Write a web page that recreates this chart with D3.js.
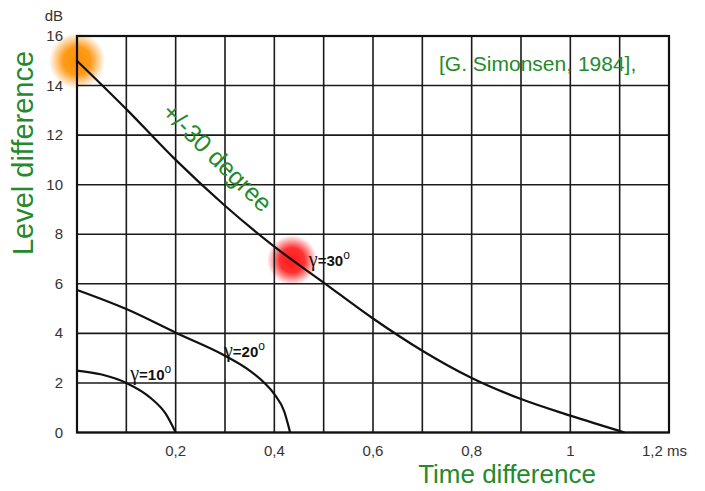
<!DOCTYPE html>
<html>
<head>
<meta charset="utf-8">
<script src="https://cdn.jsdelivr.net/npm/d3@7"></script>
<style>
  body { margin: 0; background: #fff; }
  svg { display: block; font-family: "Liberation Sans", Arial, sans-serif; }
  .grid line { stroke: #1a1a1a; stroke-width: 1.6; }
  .tick-label { fill: #333; font-size: 15px; }
  .curve { fill: none; stroke: #111; stroke-width: 2.2; }
  .green { fill: #258a2c; }
</style>
</head>
<body>
<svg id="chart" width="705" height="491"></svg>
<script>
// data (time in ms, level in dB)
var gamma30 = [[0, 15], [0.1, 13.05], [0.2, 11.0], [0.3, 9.15], [0.4, 7.5], [0.5, 6.05],
  [0.6, 4.6], [0.7, 3.3], [0.8, 2.2], [0.9, 1.35], [1.0, 0.68], [1.11, 0]];
var gamma20 = [[0, 5.75], [0.1, 4.98], [0.2, 4.03], [0.3, 3.1], [0.35, 2.5], [0.38, 2.0],
  [0.4, 1.55], [0.42, 0.85], [0.432, 0]];
var gamma10 = [[0, 2.5], [0.05, 2.34], [0.1, 2.0], [0.15, 1.38], [0.18, 0.75], [0.2, 0]];

var xTicks = [0.2, 0.4, 0.6, 0.8, 1];
var xTickLabels = ["0,2", "0,4", "0,6", "0,8", "1"];
var yTicks = [0, 2, 4, 6, 8, 10, 12, 14, 16];
var xGrid = d3.range(0, 13).map(function(i) { return i / 10; });

var curveLabels = [
  {t: 0.108, v: 2.1, num: "10"},
  {t: 0.298, v: 3.05, num: "20"},
  {t: 0.47, v: 6.7, num: "30"}
];
var blobs = [
  {t: 0, v: 15, color: "#ff9000", r: 28},
  {t: 0.436, v: 6.95, color: "#ff1a1a", r: 25}
];

var svg = d3.select("#chart"),
  x = d3.scaleLinear().domain([0, 1.2]).range([77, 669]),
  y = d3.scaleLinear().domain([0, 16]).range([432.5, 36]);

// blobs go under the grid
var defs = svg.append("defs");
blobs.forEach(function(b, i) {
  var g = defs.append("radialGradient").attr("id", "blob" + i);
  g.append("stop").attr("offset", "0%").attr("stop-color", b.color).attr("stop-opacity", 1);
  g.append("stop").attr("offset", "50%").attr("stop-color", b.color).attr("stop-opacity", 0.9);
  g.append("stop").attr("offset", "100%").attr("stop-color", b.color).attr("stop-opacity", 0);
});

svg.selectAll(".blob")
  .data(blobs)
  .enter().append("circle")
  .attr("cx", function(d) { return x(d.t); })
  .attr("cy", function(d) { return y(d.v); })
  .attr("r", function(d) { return d.r; })
  .attr("fill", function(d, i) { return "url(#blob" + i + ")"; });

var grid = svg.append("g").attr("class", "grid");
grid.selectAll(".vx")
  .data(xGrid)
  .enter().append("line")
  .attr("x1", function(d) { return x(d); }).attr("x2", function(d) { return x(d); })
  .attr("y1", y(0)).attr("y2", y(16));
grid.selectAll(".hy")
  .data(yTicks)
  .enter().append("line")
  .attr("x1", x(0)).attr("x2", x(1.2))
  .attr("y1", function(d) { return y(d); }).attr("y2", function(d) { return y(d); });

// frame
svg.append("rect")
  .attr("x", x(0)).attr("y", y(16))
  .attr("width", x(1.2) - x(0)).attr("height", y(0) - y(16))
  .attr("fill", "none").attr("stroke", "#111").attr("stroke-width", 2.2);

// tick labels
svg.selectAll(".ylab")
  .data(yTicks)
  .enter().append("text")
  .attr("class", "tick-label")
  .attr("x", 63)
  .attr("y", function(d) { return y(d) + 5; })
  .attr("text-anchor", "end")
  .text(function(d) { return d; });

svg.append("text").attr("class", "tick-label")
  .attr("x", 63).attr("y", 21).attr("text-anchor", "end").text("dB");

svg.selectAll(".xlab")
  .data(xTicks)
  .enter().append("text")
  .attr("class", "tick-label")
  .attr("x", function(d) { return x(d); })
  .attr("y", 456)
  .attr("text-anchor", "middle")
  .text(function(d, i) { return xTickLabels[i]; });

svg.append("text").attr("class", "tick-label")
  .attr("x", 642).attr("y", 456).attr("font-size", 14).text("1,2 ms");

// curves
var line = d3.line()
  .x(function(d) { return x(d[0]); })
  .y(function(d) { return y(d[1]); })
  .curve(d3.curveMonotoneX);

[gamma30, gamma20, gamma10].forEach(function(s) {
  svg.append("path").datum(s).attr("class", "curve").attr("d", line);
});

// gamma labels
curveLabels.forEach(function(c) {
  var t = svg.append("text")
    .attr("x", x(c.t)).attr("y", y(c.v))
    .attr("fill", "#111");
  t.append("tspan").attr("font-family", "'Liberation Serif', serif").attr("font-size", 20).text("γ");
  t.append("tspan").attr("font-weight", "bold").attr("font-size", 15).text("=" + c.num);
  t.append("tspan").attr("font-size", 12).attr("dy", -7).text("o");
});

// annotations
svg.append("text")
  .attr("class", "green")
  .attr("transform", "translate(" + x(0.272) + "," + y(10.85) + ") rotate(44.5)")
  .attr("text-anchor", "middle")
  .attr("font-size", 25)
  .text("+/-30 degree");

svg.append("text")
  .attr("class", "green")
  .attr("x", 439).attr("y", 71)
  .attr("font-size", 21)
  .text("[G. Simonsen, 1984],");

svg.append("text")
  .attr("class", "green")
  .attr("transform", "translate(33,153) rotate(-90)")
  .attr("text-anchor", "middle")
  .attr("font-size", 29)
  .text("Level difference");

svg.append("text")
  .attr("class", "green")
  .attr("x", 507).attr("y", 483)
  .attr("text-anchor", "middle")
  .attr("font-size", 26)
  .text("Time difference");
</script>
</body>
</html>
